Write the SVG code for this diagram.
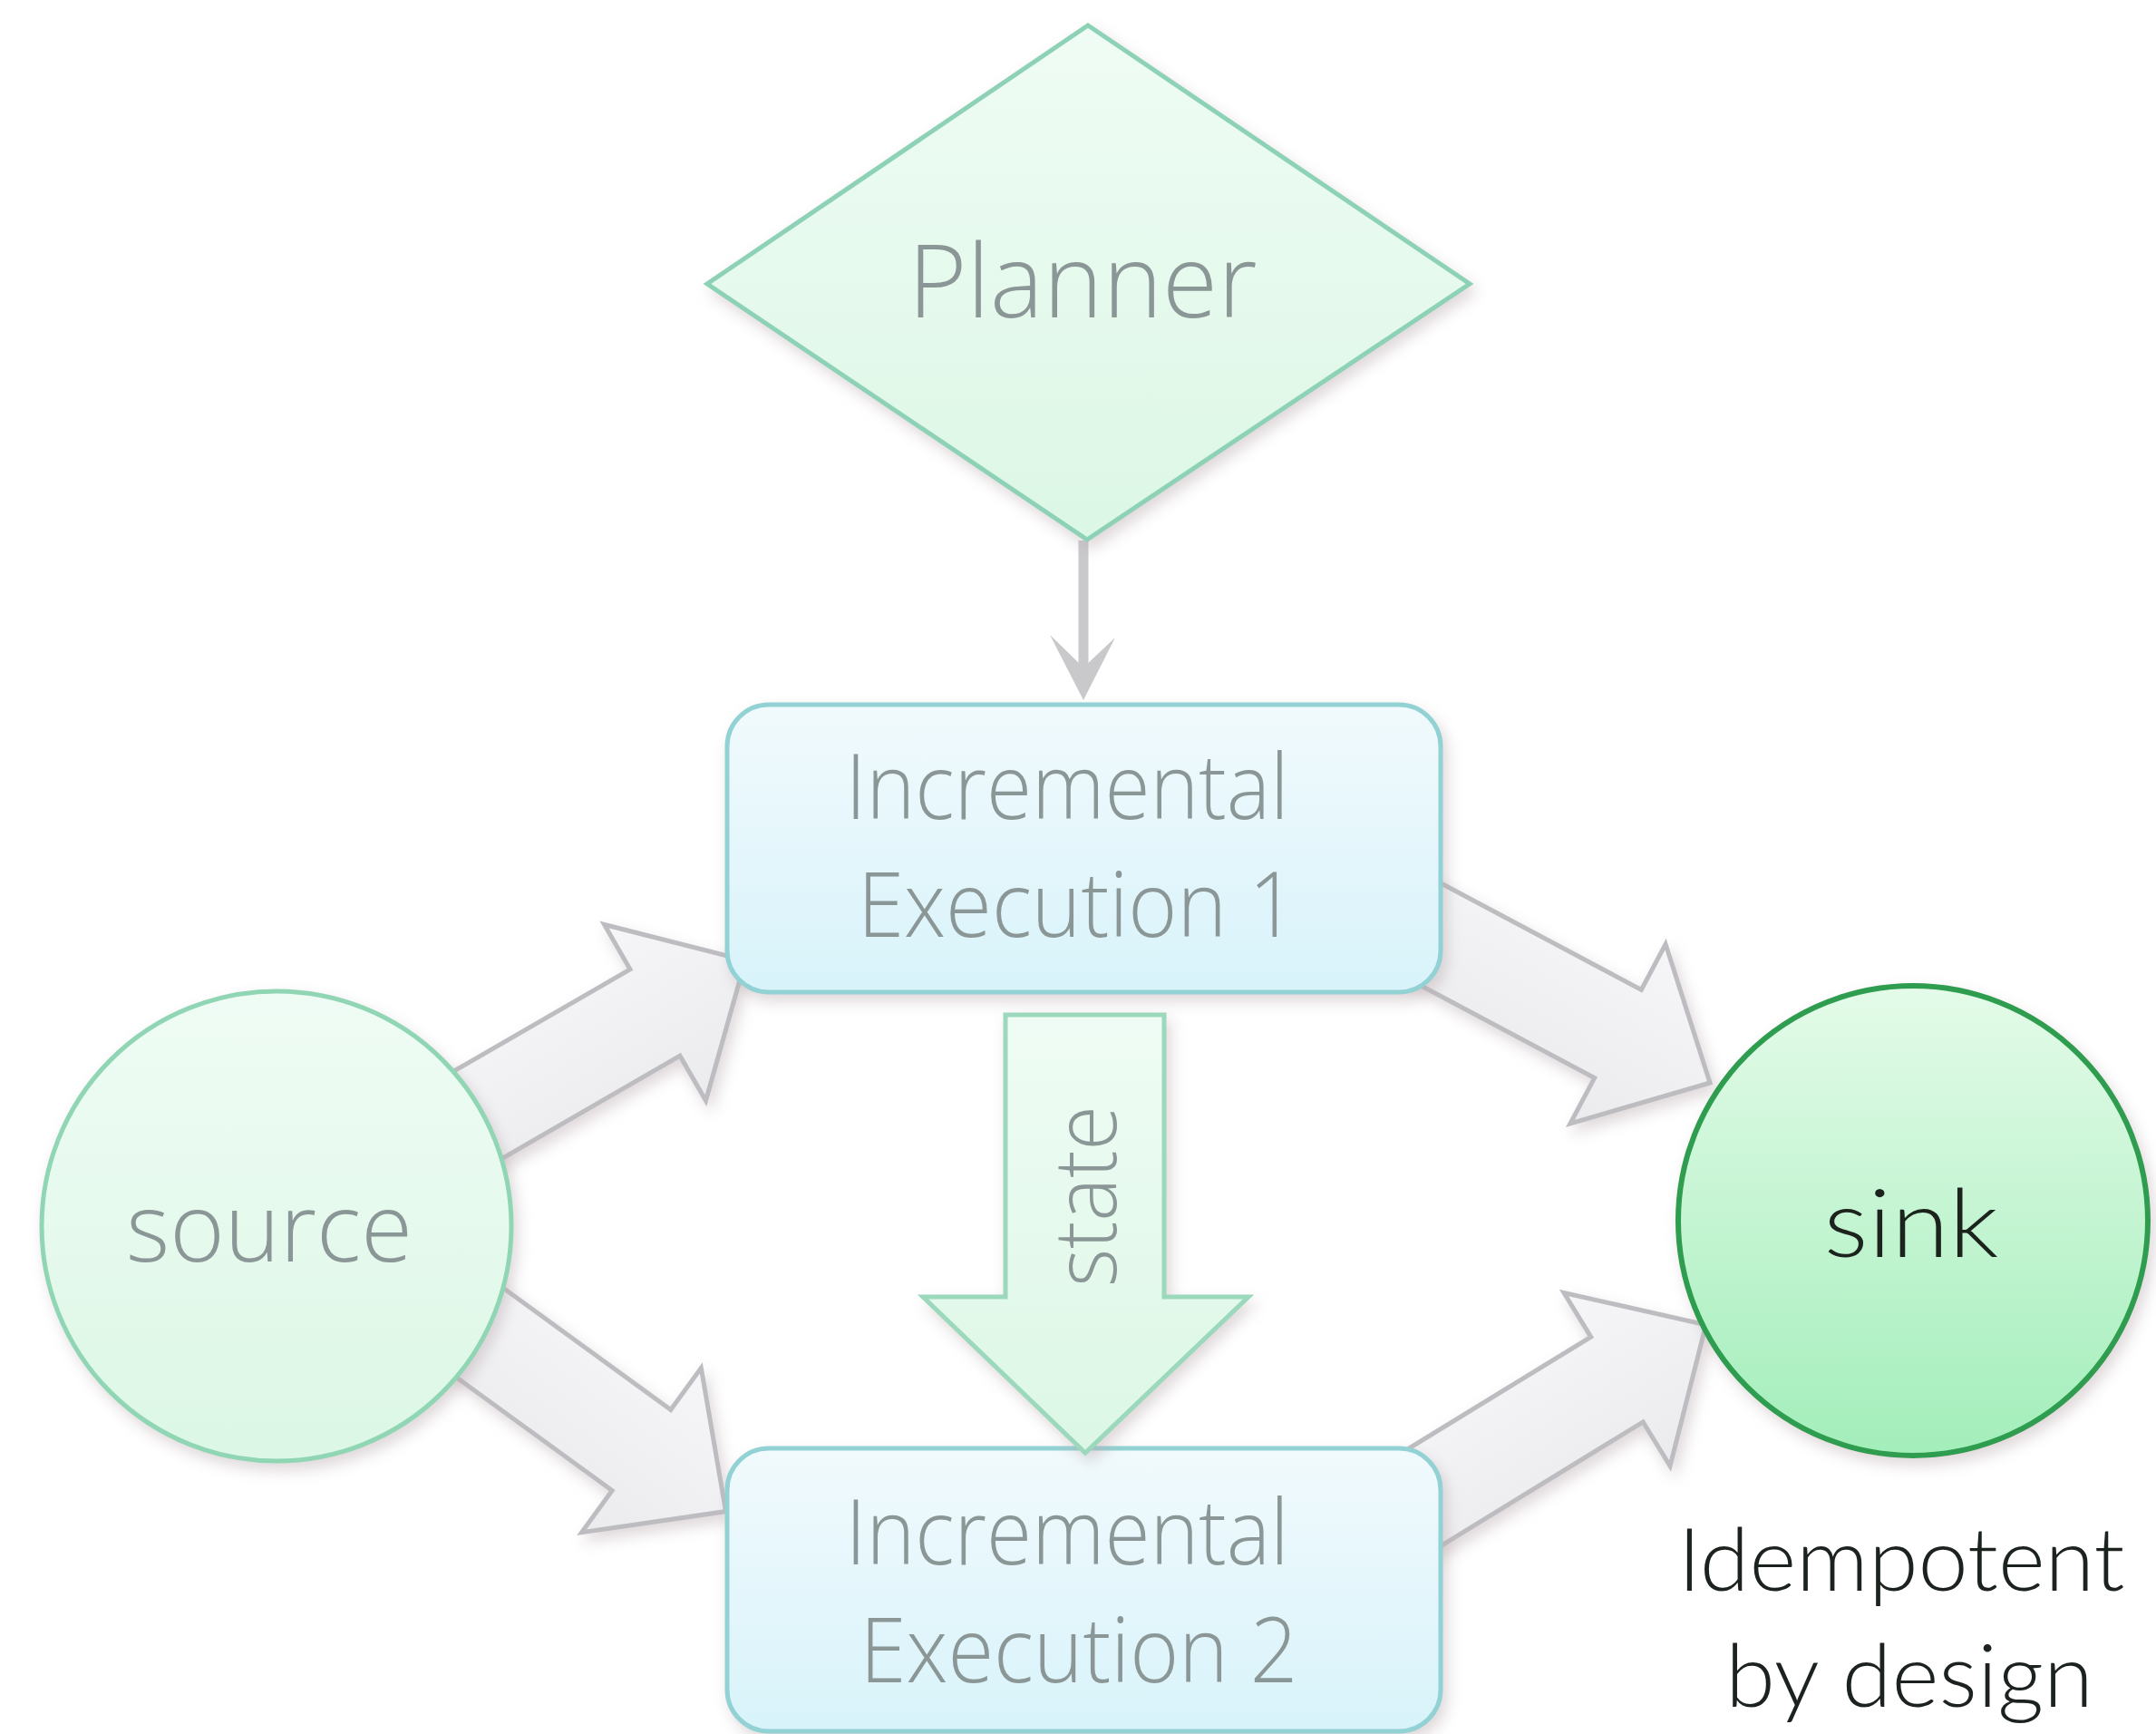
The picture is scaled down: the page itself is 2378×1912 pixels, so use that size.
<svg xmlns="http://www.w3.org/2000/svg" width="2378" height="1912" viewBox="0 0 2378 1912">
  <defs>
    <style>
      .lbl { font-family: "Open Sans", "Liberation Sans", sans-serif; font-weight: 300; fill: #8b9796; }
      .dark { font-family: Lato, "Open Sans", "Liberation Sans", sans-serif; font-weight: 300; fill: #1c221e; }
      .flow { fill: url(#gFlow); stroke: #bdbdc1; stroke-width: 5; stroke-linejoin: miter; }
      .box { fill: url(#gBox); stroke: #92d2d4; stroke-width: 5; }
    </style>
    <linearGradient id="gFlow" x1="0" y1="0" x2="0" y2="1">
      <stop offset="0" stop-color="#f6f6f8"/>
      <stop offset="1" stop-color="#ebebed"/>
    </linearGradient>
    <linearGradient id="gBox" x1="0" y1="0" x2="0" y2="1">
      <stop offset="0" stop-color="#f1fafd"/>
      <stop offset="1" stop-color="#d8f3fa"/>
    </linearGradient>
    <linearGradient id="gMint" x1="0" y1="0" x2="0" y2="1">
      <stop offset="0" stop-color="#effcf5"/>
      <stop offset="1" stop-color="#dcf7e5"/>
    </linearGradient>
    <linearGradient id="gSink" x1="0" y1="0" x2="0" y2="1">
      <stop offset="0" stop-color="#e4fbe9"/>
      <stop offset="1" stop-color="#a3eeba"/>
    </linearGradient>
    <filter id="shadow" x="-20%" y="-20%" width="140%" height="140%">
      <feGaussianBlur in="SourceAlpha" stdDeviation="8"/>
      <feOffset dx="5" dy="8" result="b"/>
      <feFlood flood-color="#b8a8ac" flood-opacity="0.45"/>
      <feComposite in2="b" operator="in"/>
      <feMerge>
        <feMergeNode/>
        <feMergeNode in="SourceGraphic"/>
      </feMerge>
    </filter>
    <path id="fatArrow" d="M -430,-55 L 0,-55 L 0,-112 L 115,0 L 0,112 L 0,55 L -430,55 Z"/>
  </defs>

  <rect width="2378" height="1912" fill="#ffffff"/>

  <!-- connectors -->
  <g id="connectors">
    <!-- planner to first execution -->
    <line x1="1195" y1="596" x2="1195" y2="740" stroke="#c9c9cc" stroke-width="11"/>
    <polygon points="1158,700 1195,772 1230,703 1195,736" fill="#c9c9cc"/>

    <!-- source to executions -->
    <g filter="url(#shadow)">
      <path class="flow" d="M -430,-55 L 0,-55 L 0,-112 L 115,0 L 0,112 L 0,55 L -430,55 Z" transform="translate(722.5 1116.5) rotate(-30)"/>
    </g>
    <g filter="url(#shadow)">
      <path class="flow" d="M -430,-55 L 0,-55 L 0,-112 L 115,0 L 0,112 L 0,55 L -430,55 Z" transform="translate(707.5 1599) rotate(36)"/>
    </g>
    <!-- executions to sink -->
    <g filter="url(#shadow)">
      <path class="flow" d="M -330,-55 L 0,-55 L 0,-112 L 115,0 L 0,112 L 0,55 L -330,55 Z" transform="translate(1784.5 1140) rotate(28)"/>
    </g>
    <g filter="url(#shadow)">
      <path class="flow" d="M -330,-55 L 0,-55 L 0,-112 L 115,0 L 0,112 L 0,55 L -330,55 Z" transform="translate(1783.5 1521) rotate(-31.5)"/>
    </g>
  </g>

  <!-- nodes -->
  <g id="planner" filter="url(#shadow)">
    <polygon points="1200,28 1621,313 1199,595 780,313" fill="url(#gMint)" stroke="#8dd2b6" stroke-width="5"/>
    <text class="lbl" x="1194" y="350" font-size="113" text-anchor="middle" textLength="385" lengthAdjust="spacingAndGlyphs">Planner</text>
  </g>

  <g id="source" filter="url(#shadow)">
    <circle cx="305" cy="1352" r="259" fill="url(#gMint)" stroke="#90d6b5" stroke-width="5"/>
    <text class="lbl" x="297" y="1391" font-size="106" text-anchor="middle" textLength="316" lengthAdjust="spacingAndGlyphs">source</text>
  </g>

  <g id="exec1" filter="url(#shadow)">
    <rect class="box" x="802" y="777" width="787" height="317" rx="46" ry="46"/>
    <text class="lbl" font-size="100" text-anchor="middle">
      <tspan x="1190" y="903" textLength="489" lengthAdjust="spacingAndGlyphs">Incremental</tspan>
      <tspan x="1188" y="1033" textLength="484" lengthAdjust="spacingAndGlyphs">Execution 1</tspan>
    </text>
  </g>

  <g id="exec2" filter="url(#shadow)">
    <rect class="box" x="802" y="1597" width="787" height="312" rx="46" ry="46"/>
    <text class="lbl" font-size="100" text-anchor="middle">
      <tspan x="1190" y="1725" textLength="489" lengthAdjust="spacingAndGlyphs">Incremental</tspan>
      <tspan x="1190" y="1855" textLength="483" lengthAdjust="spacingAndGlyphs">Execution 2</tspan>
    </text>
  </g>

  <!-- state hand-off between the executions -->
  <g id="state" filter="url(#shadow)">
    <polygon points="1109,1119 1284,1119 1284,1430 1377,1430 1197,1602 1018,1430 1109,1430" fill="url(#gMint)" stroke="#9bd8bc" stroke-width="5" stroke-linejoin="miter"/>
    <text class="lbl" x="1231" y="1319" font-size="96" text-anchor="middle" textLength="200" lengthAdjust="spacingAndGlyphs" transform="rotate(-90 1231 1319)">state</text>
  </g>

  <g id="sink" filter="url(#shadow)">
    <circle cx="2110" cy="1346" r="259" fill="url(#gSink)" stroke="#2f9d4f" stroke-width="6"/>
    <text class="dark" x="2108" y="1386" font-size="104" text-anchor="middle" textLength="193" lengthAdjust="spacingAndGlyphs">sink</text>
  </g>

  <g id="note">
    <text class="dark" font-size="96" text-anchor="middle">
      <tspan x="2110" y="1754" textLength="493" lengthAdjust="spacingAndGlyphs">Idempotent</tspan>
      <tspan x="2106" y="1882" textLength="406" lengthAdjust="spacingAndGlyphs">by design</tspan>
    </text>
  </g>
</svg>
